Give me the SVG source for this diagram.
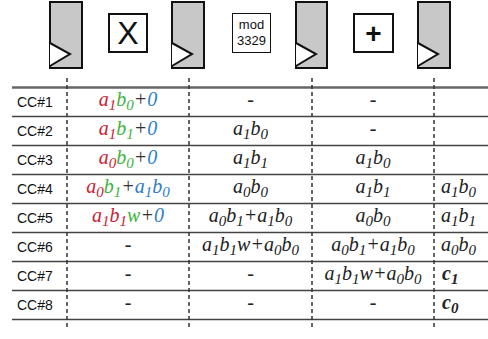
<svg xmlns="http://www.w3.org/2000/svg" width="488" height="339" viewBox="0 0 488 339">
<style>
.reg{fill:#c8c8c8;stroke:#111;stroke-width:2}
.tri{fill:#fff;stroke:#111;stroke-width:2}
.op{fill:#fff;stroke:#111;stroke-width:2}
.hl{stroke:#444;stroke-width:1.5}
.vl{stroke:#333;stroke-width:1.5;stroke-dasharray:4 3}
.lab{font-family:"Liberation Sans",Arial,sans-serif;font-size:14px;fill:#111}
.m{font-family:"Liberation Serif","Times New Roman",serif;font-style:italic;font-size:20px;fill:#222}
.c{text-anchor:middle}
.s{font-size:15px}
.r{fill:#cc2233}
.g{fill:#3cb43c}
.b{fill:#2f7dc8}
.k{fill:#333}
.bd{font-weight:bold}
</style>
<g id="reg1"><rect class="reg" x="50" y="2" width="32" height="66"/><polyline class="tri" points="50,43 70,54 50,66"/></g>
<g id="mult"><rect class="op" x="109" y="14" width="38" height="38"/><text x="128" y="44" text-anchor="middle" font-family="Liberation Sans, Arial, sans-serif" font-size="32" fill="#111">X</text></g>
<g id="reg2"><rect class="reg" x="172" y="2" width="32" height="66"/><polyline class="tri" points="172,43 192,54 172,66"/></g>
<g id="mod"><rect x="232.5" y="13.5" width="38" height="39" fill="#fff" stroke="#111" stroke-width="1"/><text x="251.5" y="29" text-anchor="middle" font-family="Liberation Sans, Arial, sans-serif" font-size="13" fill="#111">mod</text><text x="251.5" y="45" text-anchor="middle" font-family="Liberation Sans, Arial, sans-serif" font-size="13" fill="#111">3329</text></g>
<g id="reg3"><rect class="reg" x="296" y="2" width="31" height="66"/><polyline class="tri" points="296,43 316,54 296,66"/></g>
<g id="add"><rect class="op" x="354" y="14" width="39" height="38"/><text x="373.5" y="43" text-anchor="middle" font-family="Liberation Sans, Arial, sans-serif" font-size="28" font-weight="bold" fill="#111">+</text></g>
<g id="reg4"><rect class="reg" x="418" y="2" width="32" height="66"/><polyline class="tri" points="418,43 438,54 418,66"/></g>

<g id="connectors">
<line x1="12" y1="87.5" x2="488" y2="87.5" stroke="#666" stroke-width="2.5"/>
<line class="hl" x1="12" y1="116.5" x2="488" y2="116.5"/>
<line class="hl" x1="12" y1="145.5" x2="488" y2="145.5"/>
<line class="hl" x1="12" y1="174.5" x2="488" y2="174.5"/>
<line class="hl" x1="12" y1="203.5" x2="488" y2="203.5"/>
<line class="hl" x1="12" y1="232.5" x2="488" y2="232.5"/>
<line class="hl" x1="12" y1="261.5" x2="488" y2="261.5"/>
<line class="hl" x1="12" y1="290.5" x2="488" y2="290.5"/>
<line class="hl" x1="12" y1="319.5" x2="488" y2="319.5"/>
<line class="vl" x1="67" y1="78" x2="67" y2="330"/>
<line class="vl" x1="189" y1="78" x2="189" y2="330"/>
<line class="vl" x1="312" y1="78" x2="312" y2="330"/>
<line class="vl" x1="434" y1="78" x2="434" y2="330"/>
</g>

<g id="labels">
<text class="lab" x="17" y="107">CC#1</text>
<text class="lab" x="17" y="136">CC#2</text>
<text class="lab" x="17" y="165">CC#3</text>
<text class="lab" x="17" y="194">CC#4</text>
<text class="lab" x="17" y="223">CC#5</text>
<text class="lab" x="17" y="252">CC#6</text>
<text class="lab" x="17" y="281">CC#7</text>
<text class="lab" x="17" y="310">CC#8</text>
</g>

<g id="col2">
<text class="m c" x="128" y="105.5"><tspan class="r">a</tspan><tspan class="r s" dy="4">1</tspan><tspan class="g" dy="-4">b</tspan><tspan class="g s" dy="4">0</tspan><tspan class="k" dy="-4">+</tspan><tspan class="b">0</tspan></text>
<text class="m c" x="128" y="134.5"><tspan class="r">a</tspan><tspan class="r s" dy="4">1</tspan><tspan class="g" dy="-4">b</tspan><tspan class="g s" dy="4">1</tspan><tspan class="k" dy="-4">+</tspan><tspan class="b">0</tspan></text>
<text class="m c" x="128" y="163.5"><tspan class="r">a</tspan><tspan class="r s" dy="4">0</tspan><tspan class="g" dy="-4">b</tspan><tspan class="g s" dy="4">0</tspan><tspan class="k" dy="-4">+</tspan><tspan class="b">0</tspan></text>
<text class="m c" x="128" y="192.5"><tspan class="r">a</tspan><tspan class="r s" dy="4">0</tspan><tspan class="g" dy="-4">b</tspan><tspan class="g s" dy="4">1</tspan><tspan class="k" dy="-4">+</tspan><tspan class="b">a</tspan><tspan class="b s" dy="4">1</tspan><tspan class="b" dy="-4">b</tspan><tspan class="b s" dy="4">0</tspan></text>
<text class="m c" x="128" y="221.5"><tspan class="r">a</tspan><tspan class="r s" dy="4">1</tspan><tspan class="r" dy="-4">b</tspan><tspan class="r s" dy="4">1</tspan><tspan class="g" dy="-4">w</tspan><tspan class="k">+</tspan><tspan class="b">0</tspan></text>
<text class="m c" x="128" y="251">-</text>
<text class="m c" x="128" y="280">-</text>
<text class="m c" x="128" y="309">-</text>
</g>

<g id="col3">
<text class="m c" x="250.5" y="106">-</text>
<text class="m c" x="250.5" y="134.5">a<tspan class="s" dy="4">1</tspan><tspan dy="-4">b</tspan><tspan class="s" dy="4">0</tspan></text>
<text class="m c" x="250.5" y="163.5">a<tspan class="s" dy="4">1</tspan><tspan dy="-4">b</tspan><tspan class="s" dy="4">1</tspan></text>
<text class="m c" x="250.5" y="192.5">a<tspan class="s" dy="4">0</tspan><tspan dy="-4">b</tspan><tspan class="s" dy="4">0</tspan></text>
<text class="m c" x="250.5" y="221.5">a<tspan class="s" dy="4">0</tspan><tspan dy="-4">b</tspan><tspan class="s" dy="4">1</tspan><tspan dy="-4">+a</tspan><tspan class="s" dy="4">1</tspan><tspan dy="-4">b</tspan><tspan class="s" dy="4">0</tspan></text>
<text class="m c" x="250.5" y="250.5">a<tspan class="s" dy="4">1</tspan><tspan dy="-4">b</tspan><tspan class="s" dy="4">1</tspan><tspan dy="-4">w+a</tspan><tspan class="s" dy="4">0</tspan><tspan dy="-4">b</tspan><tspan class="s" dy="4">0</tspan></text>
<text class="m c" x="250.5" y="280">-</text>
<text class="m c" x="250.5" y="309">-</text>
</g>

<g id="col4">
<text class="m c" x="373" y="106">-</text>
<text class="m c" x="373" y="135">-</text>
<text class="m c" x="373" y="163.5">a<tspan class="s" dy="4">1</tspan><tspan dy="-4">b</tspan><tspan class="s" dy="4">0</tspan></text>
<text class="m c" x="373" y="192.5">a<tspan class="s" dy="4">1</tspan><tspan dy="-4">b</tspan><tspan class="s" dy="4">1</tspan></text>
<text class="m c" x="373" y="221.5">a<tspan class="s" dy="4">0</tspan><tspan dy="-4">b</tspan><tspan class="s" dy="4">0</tspan></text>
<text class="m c" x="373" y="250.5">a<tspan class="s" dy="4">0</tspan><tspan dy="-4">b</tspan><tspan class="s" dy="4">1</tspan><tspan dy="-4">+a</tspan><tspan class="s" dy="4">1</tspan><tspan dy="-4">b</tspan><tspan class="s" dy="4">0</tspan></text>
<text class="m c" x="373" y="279.5">a<tspan class="s" dy="4">1</tspan><tspan dy="-4">b</tspan><tspan class="s" dy="4">1</tspan><tspan dy="-4">w+a</tspan><tspan class="s" dy="4">0</tspan><tspan dy="-4">b</tspan><tspan class="s" dy="4">0</tspan></text>
<text class="m c" x="373" y="309">-</text>
</g>

<g id="col5">
<text class="m" x="441" y="192.5">a<tspan class="s" dy="4">1</tspan><tspan dy="-4">b</tspan><tspan class="s" dy="4">0</tspan></text>
<text class="m" x="441" y="221.5">a<tspan class="s" dy="4">1</tspan><tspan dy="-4">b</tspan><tspan class="s" dy="4">1</tspan></text>
<text class="m" x="441" y="250.5">a<tspan class="s" dy="4">0</tspan><tspan dy="-4">b</tspan><tspan class="s" dy="4">0</tspan></text>
<text class="m bd" x="442" y="279.5">c<tspan class="s" dy="4">1</tspan></text>
<text class="m bd" x="442" y="308.5">c<tspan class="s" dy="4">0</tspan></text>
</g>
</svg>
